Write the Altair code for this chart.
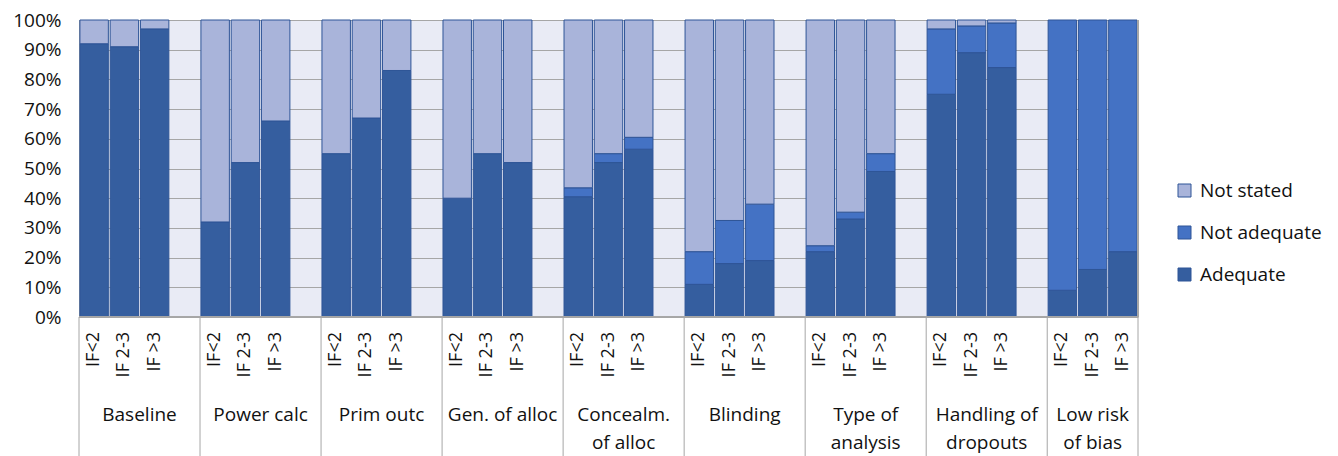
import altair as alt
import pandas as pd

groups = ["Baseline", "Power calc", "Prim outc", "Gen. of alloc", "Concealm.\nof alloc",
          "Blinding", "Type of\nanalysis", "Handling of\ndropouts", "Low risk\nof bias"]
if_labels = ["IF<2", "IF 2-3", "IF >3"]
series = ["Adequate", "Not adequate", "Not stated"]

adequate = [92, 91, 97, 32, 52, 66, 55, 67, 83, 40, 55, 52, 40.5, 52, 56.5,
            11, 18, 19, 22, 33, 49, 75, 89, 84, 9, 16, 22]
not_adequate = [0, 0, 0, 0, 0, 0, 0, 0, 0, 0, 0, 0, 3, 3, 4,
                11, 14.5, 19, 2, 2.3, 6, 22, 9, 15, 91, 84, 78]
not_stated = [8, 9, 3, 68, 48, 34, 45, 33, 17, 60, 45, 48, 56.5, 45, 39.5,
              78, 67.5, 62, 76, 64.7, 45, 3, 2, 1, 0, 0, 0]

FONT = "Open Sans"
TXT = "#111"
W, H = 1059, 297
NSLOT = len(groups) * 4 - 1

rows, ticks, glabels = [], [], []
for g, gname in enumerate(groups):
    for i, lab in enumerate(if_labels):
        k = g * 3 + i
        slot = g * 4 + i
        ticks.append({"xc": slot + 0.5, "label": lab})
        for s_idx, (name, vals) in enumerate(zip(series, [adequate, not_adequate, not_stated])):
            if vals[k] > 0:
                rows.append({"x0": slot + 0.03, "x1": slot + 0.97, "series": name,
                             "ord": s_idx, "value": vals[k] / 100})
    glabels.append({"xc": (g * 4 + min(g * 4 + 4, NSLOT)) / 2, "label": gname})

bars_df = pd.DataFrame(rows)
ticks_df = pd.DataFrame(ticks)
glab_df = pd.DataFrame(glabels)
sep_df = pd.DataFrame({"xs": [g * 4 for g in range(len(groups))] + [NSLOT]})

xscale = alt.Scale(domain=[0, NSLOT], nice=False, zero=False)

bars = alt.Chart(bars_df).transform_stack(
    stack="value", as_=["y0", "y1"], groupby=["x0"], sort=[alt.SortField("ord", "ascending")]
).mark_bar(stroke="#2F5597", strokeWidth=1).encode(
    x=alt.X("x0:Q", scale=xscale, axis=None),
    x2="x1:Q",
    y=alt.Y("y0:Q",
            scale=alt.Scale(domain=[0, 1], nice=False),
            axis=alt.Axis(values=[i / 10 for i in range(11)], format="%", title=None,
                          labelFontSize=19, labelFont=FONT, labelColor=TXT,
                          ticks=False, labelPadding=18, domainColor="#A6A6A6",
                          gridColor="#A6A6A6", gridWidth=1, grid=True)),
    y2="y1:Q",
    color=alt.Color("series:N",
                    scale=alt.Scale(domain=["Not stated", "Not adequate", "Adequate"],
                                    range=["#A9B4DA", "#4472C4", "#355E9F"]),
                    legend=alt.Legend(orient="none", legendX=1096, legendY=161, title=None,
                                      symbolType="square", symbolSize=169,
                                      symbolStrokeColor="#2F5597", symbolStrokeWidth=1,
                                      labelFontSize=19, labelFont=FONT, labelColor=TXT,
                                      rowPadding=22, labelOffset=6)),
)

base_line = alt.Chart(sep_df).mark_rule(color="#A6A6A6", strokeWidth=1).encode(
    x=alt.value(0), x2=alt.value(W), y=alt.value(H))

seps = alt.Chart(sep_df).mark_rule(color="#A6A6A6", strokeWidth=1).encode(
    x=alt.X("xs:Q", scale=xscale), y=alt.value(H), y2=alt.value(436))

right_edge = alt.Chart(sep_df).mark_rule(color="#A6A6A6", strokeWidth=1).encode(
    x=alt.value(W), y=alt.value(0), y2=alt.value(H))

tick_text = alt.Chart(ticks_df).mark_text(angle=270, align="right", baseline="middle",
                                          fontSize=18, font=FONT, color=TXT).encode(
    x=alt.X("xc:Q", scale=xscale), y=alt.value(312), text="label:N")

group_text = alt.Chart(glab_df).mark_text(align="center", baseline="top", lineBreak="\n",
                                          lineHeight=28, fontSize=19, font=FONT,
                                          color=TXT).encode(
    x=alt.X("xc:Q", scale=xscale), y=alt.value(386), text="label:N")

chart = alt.layer(bars, base_line, seps, right_edge, tick_text, group_text).properties(
    width=W, height=H,
    autosize=alt.AutoSizeParams(type="none"),
    padding={"left": 71, "top": 12, "right": 192, "bottom": 139},
).configure_view(fill="#E9EBF5", stroke=None)

chart.save("out.html", embed_options={"renderer": "svg", "actions": False})
